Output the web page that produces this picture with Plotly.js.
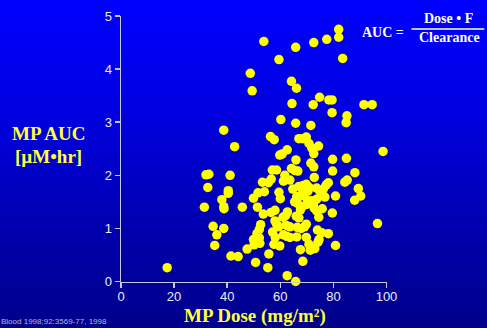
<!DOCTYPE html>
<html>
<head>
<meta charset="utf-8">
<script src="https://cdn.plot.ly/plotly-3.0.1.min.js"></script>
<style>
html,body{margin:0;padding:0;width:487px;height:328px;overflow:hidden;}
body{background:linear-gradient(to bottom,#0000ff 0%,#0000e0 35%,#0000a8 75%,#00008a 100%);}
#chart{width:487px;height:328px;}
</style>
</head>
<body>
<div id="chart"></div>
<script>
// MP dose (mg/m2) for each patient
const mpDose = [
 53.8,59.5,65.8,72.6,77.5,82.0,82.0,83.5,48.7,49.4,
 64.2,66.1,74.8,78.3,79.5,91.5,94.6,64.4,72.4,79.5,
 85.1,84.8,60.2,65.8,71.5,38.7,56.3,57.7,42.8,62.6,
 67.0,68.4,69.8,70.8,71.9,74.4,98.7,72.6,59.8,60.7,
 79.7,84.9,65.9,71.5,72.6,57.0,58.6,64.2,65.5,66.6,
 79.7,88.1,72.8,61.7,32.0,33.1,41.1,32.7,40.4,40.4,
 53.3,55.5,56.6,61.2,63.6,64.7,67.0,68.6,69.8,70.9,
 70.4,73.7,74.9,75.3,76.2,77.3,78.1,84.3,85.2,89.4,
 51.6,54.0,59.5,68.4,66.2,68.7,60.0,49.9,38.0,76.8,
 80.8,90.3,88.0,65.4,66.5,70.4,71.8,73.7,69.9,72.5,
 68.2,67.6,72.8,73.7,75.8,79.6,51.4,31.4,38.7,38.8,
 45.7,53.6,56.5,58.0,62.7,62.0,61.0,66.0,67.0,74.5,
 96.6,52.6,52.1,51.2,52.1,49.9,50.1,52.3,58.0,58.6,
 59.3,62.1,63.6,66.4,67.9,69.1,69.8,74.0,75.6,78.1,
 57.1,58.1,61.2,62.4,63.6,66.2,69.8,74.6,74.2,57.6,
 59.8,70.8,80.8,34.7,38.7,36.1,35.3,47.5,67.6,71.3,
 73.0,55.7,41.4,44.1,50.7,68.5,55.3,17.4,62.6,65.8
];
// MP AUC (uM*hr) for each patient
const mpAUC = [
 4.52,4.18,4.41,4.50,4.56,4.75,4.60,4.20,3.92,3.59,
 3.77,3.64,3.47,3.42,3.42,3.33,3.33,3.35,3.33,3.18,
 3.12,2.99,3.05,2.98,2.94,2.85,2.73,2.67,2.54,2.48,
 2.69,2.69,2.72,2.60,2.51,2.55,2.45,2.41,2.38,2.40,
 2.30,2.32,2.29,2.23,2.16,2.10,2.10,2.13,2.09,2.08,
 2.08,2.05,1.96,2.00,2.01,2.02,2.00,1.77,1.71,1.66,
 1.87,1.86,1.93,1.89,1.91,1.74,1.79,1.81,1.83,1.77,
 1.70,1.76,1.70,1.63,1.74,1.82,1.86,1.87,1.91,1.75,
 1.67,1.69,1.68,1.66,1.60,1.61,1.56,1.57,1.54,1.59,
 1.61,1.61,1.53,1.50,1.47,1.52,1.52,1.55,1.45,1.47,
 1.41,1.35,1.38,1.33,1.37,1.29,1.40,1.40,1.41,1.37,
 1.40,1.27,1.30,1.34,1.31,1.24,1.21,1.23,1.20,1.21,
 1.09,1.07,0.98,0.90,0.82,0.79,0.69,0.72,1.14,1.08,
 1.03,1.06,1.03,1.02,1.00,1.03,1.08,0.97,0.92,0.90,
 0.93,0.83,0.88,0.85,0.83,0.84,0.83,0.79,0.74,0.70,
 0.67,0.70,0.68,1.04,1.00,0.88,0.68,0.61,0.60,0.59,
 0.62,0.52,0.48,0.47,0.36,0.38,0.26,0.26,0.11,0.00
];
const xTicks = [0,20,40,60,80,100];
const yTicks = [0,1,2,3,4,5];
const sourceNote = 'Blood 1998;92:3569-77, 1998';

const W = 267.5, H = 267.5, S = 1.5; // plot box (px) and shadow offset
const axisCol = '#c9c9dc';
const tickFont = {family:'"Liberation Sans", Arial, sans-serif', size:13, color:'#ececf4'};
const titleFont = {family:'"Liberation Serif", "Times New Roman", serif', size:19, color:'#ffff3c'};
const formFont = {family:'"Liberation Serif", "Times New Roman", serif', size:14, color:'#ffffff'};

const axesOnly = {x:[], y:[], type:'scatter', mode:'markers', showlegend:false, hoverinfo:'skip'};
const shadow = {
  x: mpDose, y: mpAUC, xaxis:'x2', yaxis:'y2', type:'scatter', mode:'markers',
  marker:{size:9.5, color:'#00004a'}, cliponaxis:false, hoverinfo:'skip', showlegend:false
};
const pts = {
  x: mpDose, y: mpAUC, xaxis:'x3', yaxis:'y3', type:'scatter', mode:'markers',
  marker:{size:9.5, color:'#ffff00'}, cliponaxis:false, showlegend:false
};

const mainX = [0,(W-S)/W], mainY = [S/H,1];
const layout = {
  width:487, height:328,
  margin:{l:121, r:487-121-W, t:16, b:328-16-H, pad:0},
  paper_bgcolor:'rgba(0,0,0,0)', plot_bgcolor:'rgba(0,0,0,0)',
  showlegend:false,
  xaxis:{domain:mainX, range:[0,100], tickvals:xTicks, ticktext:xTicks.map(String),
    showline:true, linecolor:axisCol, linewidth:1.5, ticks:'outside', ticklen:5, tickwidth:1.5,
    tickcolor:axisCol, showgrid:false, zeroline:false, tickfont:tickFont, fixedrange:true,
    ticklabelstandoff:-3},
  yaxis:{domain:mainY, range:[0,5], tickvals:yTicks, ticktext:yTicks.map(String),
    showline:true, linecolor:axisCol, linewidth:1.5, ticks:'outside', ticklen:5, tickwidth:1.5,
    tickcolor:axisCol, showgrid:false, zeroline:false, tickfont:tickFont, fixedrange:true},
  xaxis2:{domain:[S/W,1], range:[0,100], visible:false, overlaying:'x', anchor:'y2'},
  yaxis2:{domain:[0,(H-S)/H], range:[0,5], visible:false, overlaying:'y', anchor:'x2'},
  xaxis3:{domain:mainX, range:[0,100], visible:false, overlaying:'x', anchor:'y3'},
  yaxis3:{domain:mainY, range:[0,5], visible:false, overlaying:'y', anchor:'x3'},
  annotations:[
    {xref:'paper', yref:'paper', x:-0.27, y:(283.5-133.3)/H, xanchor:'center', yanchor:'middle',
     text:'<b>MP AUC</b>', showarrow:false, font:titleFont},
    {xref:'paper', yref:'paper', x:-0.27, y:(283.5-157)/H, xanchor:'center', yanchor:'middle',
     text:'<b>[µM•hr]</b>', showarrow:false, font:titleFont},
    {xref:'paper', yref:'paper', x:(255-121)/W, y:(283.5-317)/H, xanchor:'center', yanchor:'middle',
     text:'<b>MP Dose (mg/m²)</b>', showarrow:false, font:titleFont},
    {xref:'paper', yref:'paper', x:(383.5-121)/W, y:(283.5-33)/H, xanchor:'center', yanchor:'middle',
     text:'<b>AUC =</b>', showarrow:false, font:formFont},
    {xref:'paper', yref:'paper', x:(449.5-121)/W, y:(283.5-19)/H, xanchor:'center', yanchor:'middle',
     text:'<b>Dose • F</b>', showarrow:false, font:formFont},
    {xref:'paper', yref:'paper', x:(450.5-121)/W, y:(283.5-38)/H, xanchor:'center', yanchor:'middle',
     text:'<b>Clearance</b>', showarrow:false, font:formFont},
    {xref:'paper', yref:'paper', x:(0-121)/W, y:(283.5-328)/H, xanchor:'left', yanchor:'bottom',
     text:sourceNote, showarrow:false, borderpad:0,
     font:{family:'"Liberation Sans", Arial, sans-serif', size:8, color:'#b8b8d8'}}
  ],
  shapes:[
    {type:'line', xref:'paper', yref:'paper', x0:(412-121)/W, x1:(485-121)/W,
     y0:(283.5-29)/H, y1:(283.5-29)/H, line:{color:'#ffffff', width:1.5}}
  ]
};

Plotly.newPlot('chart', [axesOnly, shadow, pts], layout, {displayModeBar:false, staticPlot:true});
</script>
</body>
</html>
